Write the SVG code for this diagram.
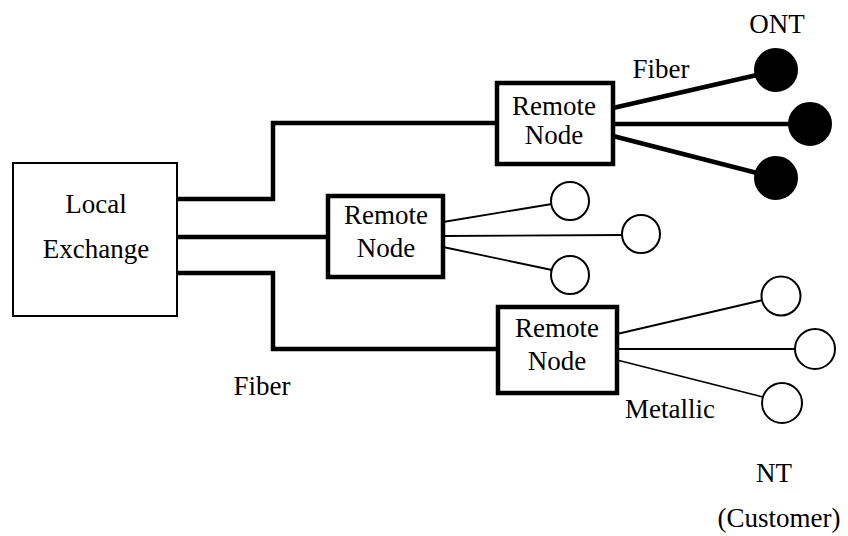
<svg xmlns="http://www.w3.org/2000/svg" width="848" height="536" viewBox="0 0 848 536" font-family="'Liberation Serif', 'Times New Roman', serif">
<style>
text{font-family:"Liberation Serif","Times New Roman",serif;font-size:27px;fill:#000;text-anchor:middle}
.rn{fill:#fff;stroke:#000;stroke-width:4.5}
.thick{fill:none;stroke:#000;stroke-width:4.5}
.thin{fill:none;stroke:#000;stroke-width:1.8}
.ont{fill:#000;stroke:#000;stroke-width:2}
.nt{fill:#fff;stroke:#000;stroke-width:2}
</style>
<rect width="848" height="536" fill="#fff"/>
<g id="connectors">
<polyline class="thick" points="177,199 273,199 273,123 497,123"/>
<line class="thick" x1="177" y1="237" x2="328" y2="237"/>
<polyline class="thick" points="177,273 273,273 273,349 498,349"/>
<line class="thick" x1="613" y1="108" x2="757" y2="75"/>
<line class="thick" x1="613" y1="124" x2="789" y2="124"/>
<line class="thick" x1="613" y1="136" x2="757" y2="173"/>
<line class="thin" x1="443" y1="222" x2="552" y2="204"/>
<line class="thin" x1="443" y1="236" x2="622" y2="235"/>
<line class="thin" x1="443" y1="247" x2="552" y2="270"/>
<line class="thin" x1="617" y1="334" x2="763" y2="300"/>
<line class="thin" x1="617" y1="349" x2="795" y2="349"/>
<line class="thin" x1="617" y1="360" x2="763" y2="397"/>
</g>
<g id="local-exchange">
<rect x="13" y="163" width="164" height="153" fill="#fff" stroke="#000" stroke-width="2"/>
<text x="96" y="213">Local</text>
<text x="96" y="258">Exchange</text>
</g>
<g id="remote-node-1">
<rect class="rn" x="497" y="83" width="116" height="81"/>
<text x="554" y="115">Remote</text>
<text x="554" y="144">Node</text>
</g>
<g id="remote-node-2">
<rect class="rn" x="328" y="196" width="115" height="81"/>
<text x="386" y="224">Remote</text>
<text x="386" y="257">Node</text>
</g>
<g id="remote-node-3">
<rect class="rn" x="498" y="307" width="119" height="86"/>
<text x="557" y="337">Remote</text>
<text x="557" y="370">Node</text>
</g>
<g id="ont-1"><circle class="ont" cx="776" cy="70" r="21"/></g>
<g id="ont-2"><circle class="ont" cx="810" cy="124" r="21"/></g>
<g id="ont-3"><circle class="ont" cx="776" cy="178" r="21"/></g>
<g id="nt-1"><circle class="nt" cx="570" cy="201" r="19"/></g>
<g id="nt-2"><circle class="nt" cx="641" cy="234" r="19"/></g>
<g id="nt-3"><circle class="nt" cx="570" cy="275" r="19"/></g>
<g id="nt-4"><circle class="nt" cx="781" cy="296" r="19.5"/></g>
<g id="nt-5"><circle class="nt" cx="815" cy="349" r="20"/></g>
<g id="nt-6"><circle class="nt" cx="782" cy="403" r="20"/></g>
<g id="labels">
<text x="777" y="33">ONT</text>
<text x="661" y="78">Fiber</text>
<text x="262" y="395">Fiber</text>
<text x="670" y="418">Metallic</text>
<text x="774" y="482">NT</text>
<text x="779" y="527">(Customer)</text>
</g>
</svg>
